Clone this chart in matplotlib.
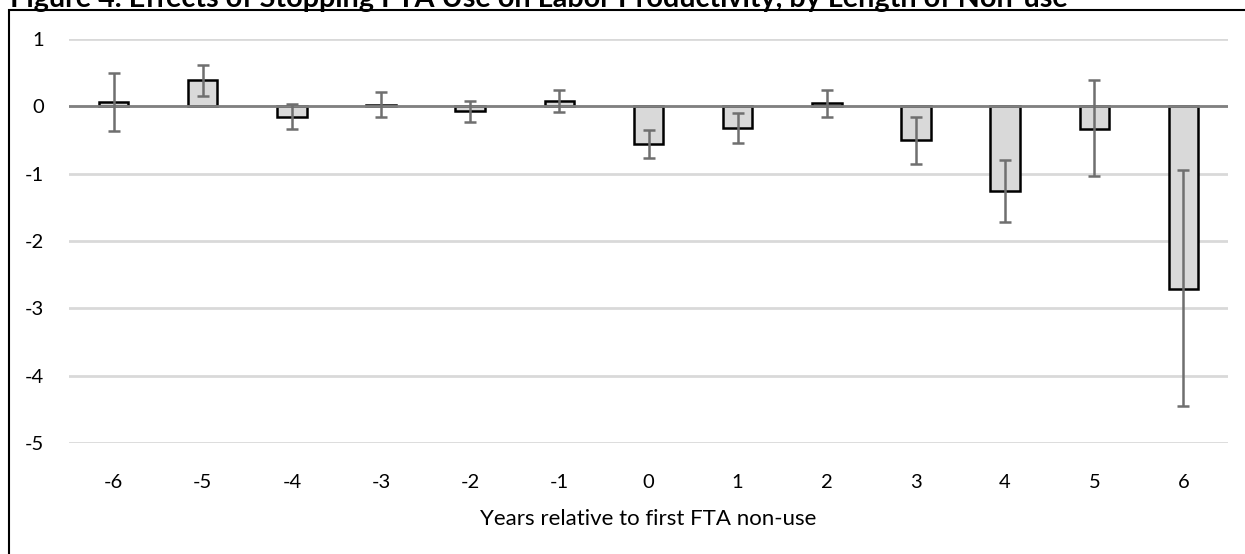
import numpy as np
import matplotlib
matplotlib.use("Agg")
from matplotlib import pyplot as plt
from matplotlib.patches import Rectangle

plt.rcParams['font.family'] = ['Lato', 'DejaVu Sans']

# years relative to first FTA non-use
years = [-6, -5, -4, -3, -2, -1, 0, 1, 2, 3, 4, 5, 6]
coef = [0.07, 0.39, -0.16, 0.02, -0.07, 0.08, -0.56, -0.32, 0.05, -0.50, -1.26, -0.33, -2.71]
ci_hi = [0.50, 0.62, 0.03, 0.21, 0.08, 0.24, -0.35, -0.10, 0.24, -0.16, -0.79, 0.39, -0.95]
ci_lo = [-0.36, 0.16, -0.33, -0.16, -0.23, -0.09, -0.76, -0.55, -0.16, -0.85, -1.72, -1.04, -4.45]
yticks = [1, 0, -1, -2, -3, -4, -5]

title = "Figure 4. Effects of Stopping FTA Use on Labor Productivity, by Length of Non-use"
xlabel = "Years relative to first FTA non-use"

W, H = 1245, 554
fig = plt.figure(figsize=(W / 100, H / 100), dpi=100)
ax = fig.add_axes([69 / W, 1 - 443 / H, (1228 - 69) / W, (443 - 39) / H])

x = np.arange(len(years))
coef = np.array(coef)
err = [coef - np.array(ci_lo), np.array(ci_hi) - coef]

ax.bar(x, coef, width=0.33, color='#d9d9d9', edgecolor='black', linewidth=1.8, zorder=2)
ax.axhline(0, color='#808080', linewidth=2, zorder=3)
ax.errorbar(x, coef, yerr=err, fmt='none', ecolor='#6f6f6f', elinewidth=1.8,
            capsize=4.5, capthick=1.8, zorder=4)

ax.set_xlim(-0.5, len(years) - 0.5)
ax.set_ylim(-5, 1)
ax.set_yticks(yticks)
ax.set_yticklabels([str(v) for v in yticks])
ax.set_xticks(x)
ax.set_xticklabels([str(v) for v in years])
ax.yaxis.grid(True, color='#d9d9d9', linewidth=2)
ax.set_axisbelow(True)
for s in ax.spines.values():
    s.set_visible(False)
ax.tick_params(length=0, labelsize=14.5, colors='black')
ax.tick_params(axis='y', pad=18)
ax.tick_params(axis='x', pad=22)
ax.set_xlabel(xlabel, fontsize=16, labelpad=13)

# outer frame, runs off the right and bottom of the picture
fig.patches.append(Rectangle((9 / W, -0.05), 1.2, 1 - 10 / H + 0.05, transform=fig.transFigure,
                             fill=False, edgecolor='black', linewidth=1.5))

# title is cut by the top edge, as in the source page
fig.text(10 / W, 1 - 7 / H, title, fontsize=20.7, fontweight='bold', va='baseline', ha='left')

fig.savefig("out.png", dpi=100)
